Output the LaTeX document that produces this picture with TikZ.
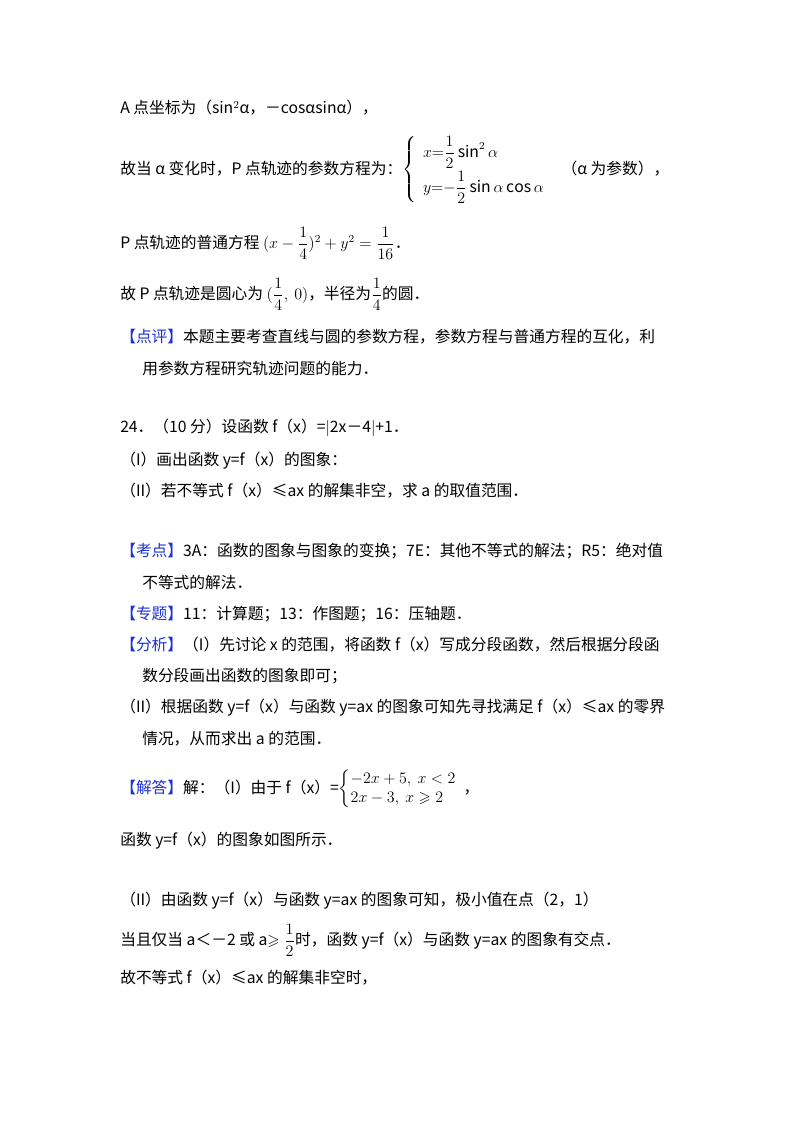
\documentclass[tikz,border=0pt]{standalone}
\usepackage{amsmath,amssymb}
\usepackage{fontspec}
\setmainfont{Noto Sans CJK SC}
\definecolor{kb}{RGB}{30,50,210}
\begin{document}
\begin{tikzpicture}[x=0.75pt,y=-0.75pt,
  t/.style={anchor=west,inner sep=0pt,font=\fontsize{11.8}{14}\selectfont}]
\useasboundingbox[fill=white] (0,0) rectangle (800,1132);
\node[t] (l1) at (120,108) {A 点坐标为（sin$^2$α，－cosαsinα），};
\node[t] (l2) at (120,170) {故当 α 变化时，P 点轨迹的参数方程为：$\left\{\begin{array}{l}x{=}\dfrac12\sin^2\alpha\\[6pt] y{=}{-}\dfrac12\sin\alpha\cos\alpha\end{array}\right.$\hspace{0.6em}（α 为参数），};
\node[t] (l3) at (120,243) {P 点轨迹的普通方程 $(x-\dfrac14)^2+y^2=\dfrac1{16}$．};
\node[t] (l4) at (120,294) {故 P 点轨迹是圆心为 $(\dfrac14,\ 0)$，半径为$\dfrac14$的圆．};
\node[t] (l5) at (120,337) {\textcolor{kb}{【点评】}本题主要考查直线与圆的参数方程，参数方程与普通方程的互化，利};
\node[t] (l6) at (142,368) {用参数方程研究轨迹问题的能力．};
\node[t] (l7) at (120,428) {24．（10 分）设函数 f（x）=$|$2x－4$|$+1．};
\node[t] (l8) at (120,461) {（I）画出函数 y=f（x）的图象：};
\node[t] (l9) at (120,491) {（II）若不等式 f（x）≤ax 的解集非空，求 a 的取值范围．};
\node[t] (l10) at (120,551) {\textcolor{kb}{【考点】}3A：函数的图象与图象的变换；7E：其他不等式的解法；R5：绝对值};
\node[t] (l11) at (142,582) {不等式的解法．};
\node[t] (l12) at (120,614) {\textcolor{kb}{【专题】}11：计算题；13：作图题；16：压轴题．};
\node[t] (l13) at (120,645) {\textcolor{kb}{【分析】}（I）先讨论 x 的范围，将函数 f（x）写成分段函数，然后根据分段函};
\node[t] (l14) at (142,676) {数分段画出函数的图象即可；};
\node[t] (l15) at (120,708) {（II）根据函数 y=f（x）与函数 y=ax 的图象可知先寻找满足 f（x）≤ax 的零界};
\node[t] (l16) at (142,739) {情况，从而求出 a 的范围．};
\node[t] (l17) at (120,789) {\textcolor{kb}{【解答】}解：（I）由于 f（x）=$\left\{\begin{array}{@{}l}-2x+5,\ x<2\\ 2x-3,\ x\geqslant 2\end{array}\right.$，};
\node[t] (l18) at (120,841) {函数 y=f（x）的图象如图所示．};
\node[t] (l19) at (120,901) {（II）由函数 y=f（x）与函数 y=ax 的图象可知，极小值在点（2，1）};
\node[t] (l20) at (120,940) {当且仅当 a＜－2 或 a$\geqslant\dfrac12$时，函数 y=f（x）与函数 y=ax 的图象有交点．};
\node[t] (l21) at (120,978) {故不等式 f（x）≤ax 的解集非空时，};
\end{tikzpicture}
\end{document}
